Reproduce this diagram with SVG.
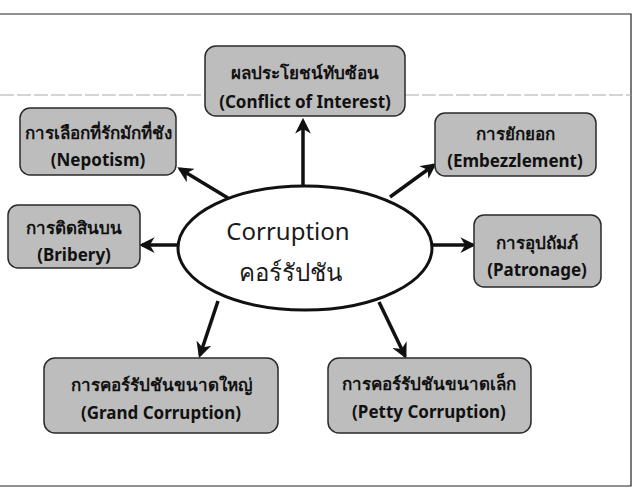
<svg xmlns="http://www.w3.org/2000/svg" width="637" height="494" viewBox="0 0 637 494">
<style>
.box{fill:#bdbdbd;stroke:#2a2a2a;stroke-width:1.5}
.t{font-family:"Noto Sans","DejaVu Sans",sans-serif;font-size:17px;fill:#111;text-anchor:middle;font-weight:bold}
.big{font-family:"Noto Sans","DejaVu Sans",sans-serif;font-size:24px;fill:#1a1a1a;text-anchor:middle}
.arr{stroke:#111;stroke-width:3.5;fill:none;marker-end:url(#ah)}
</style>
<defs>
<marker id="ah" viewBox="0 0 10 10" refX="8" refY="5" markerWidth="4.5" markerHeight="4.5" orient="auto" markerUnits="strokeWidth">
<path d="M0,0 L10,5 L0,10 L3,5 Z" fill="#111"/>
</marker>
</defs>
<rect x="0" y="0" width="637" height="494" fill="#fff"/>
<path d="M0,14 H631 V486 H0" fill="none" stroke="#222" stroke-width="1.2"/>
<line x1="0" y1="95" x2="205" y2="95" stroke="#aaa" stroke-width="1" stroke-dasharray="14 3"/>
<line x1="405" y1="95" x2="631" y2="95" stroke="#aaa" stroke-width="1" stroke-dasharray="14 3"/>
<g id="connectors">
<line class="arr" x1="303" y1="186" x2="303" y2="121"/>
<line class="arr" x1="228" y1="198" x2="180" y2="169"/>
<line class="arr" x1="390" y1="197" x2="434" y2="165"/>
<line class="arr" x1="179" y1="245" x2="142" y2="245"/>
<line class="arr" x1="432" y1="245" x2="473" y2="245"/>
<line class="arr" x1="218" y1="301" x2="200" y2="355"/>
<line class="arr" x1="379" y1="302" x2="405" y2="356"/>
</g>
<g id="center">
<ellipse cx="305" cy="248" rx="127" ry="62" fill="#fff" stroke="#111" stroke-width="3"/>
<text class="big" x="288" y="240">Corruption</text>
<text class="big" x="290" y="281">คอร์รัปชัน</text>
</g>
<g id="conflict">
<rect class="box" x="205" y="46" width="200" height="70" rx="11"/>
<text class="t" x="305" y="79">ผลประโยชน์ทับซ้อน</text>
<text class="t" x="305" y="108">(Conflict of Interest)</text>
</g>
<g id="nepotism">
<rect class="box" x="20" y="108" width="156" height="67" rx="10"/>
<text class="t" x="98" y="139">การเลือกที่รักมักที่ชัง</text>
<text class="t" x="98" y="166">(Nepotism)</text>
</g>
<g id="embezzlement">
<rect class="box" x="435" y="113" width="161" height="63" rx="10"/>
<text class="t" x="515" y="140">การยักยอก</text>
<text class="t" x="515" y="167">(Embezzlement)</text>
</g>
<g id="bribery">
<rect class="box" x="8" y="205" width="132" height="63" rx="10"/>
<text class="t" x="74" y="234">การติดสินบน</text>
<text class="t" x="74" y="261">(Bribery)</text>
</g>
<g id="patronage">
<rect class="box" x="474" y="215" width="127" height="72" rx="10"/>
<text class="t" x="537" y="249">การอุปถัมภ์</text>
<text class="t" x="537" y="276">(Patronage)</text>
</g>
<g id="grand">
<rect class="box" x="44" y="358" width="234" height="75" rx="11"/>
<text class="t" x="161" y="391">การคอร์รัปชันขนาดใหญ่</text>
<text class="t" x="161" y="419">(Grand Corruption)</text>
</g>
<g id="petty">
<rect class="box" x="328" y="358" width="203" height="75" rx="11"/>
<text class="t" x="429" y="390">การคอร์รัปชันขนาดเล็ก</text>
<text class="t" x="429" y="418">(Petty Corruption)</text>
</g>
</svg>
